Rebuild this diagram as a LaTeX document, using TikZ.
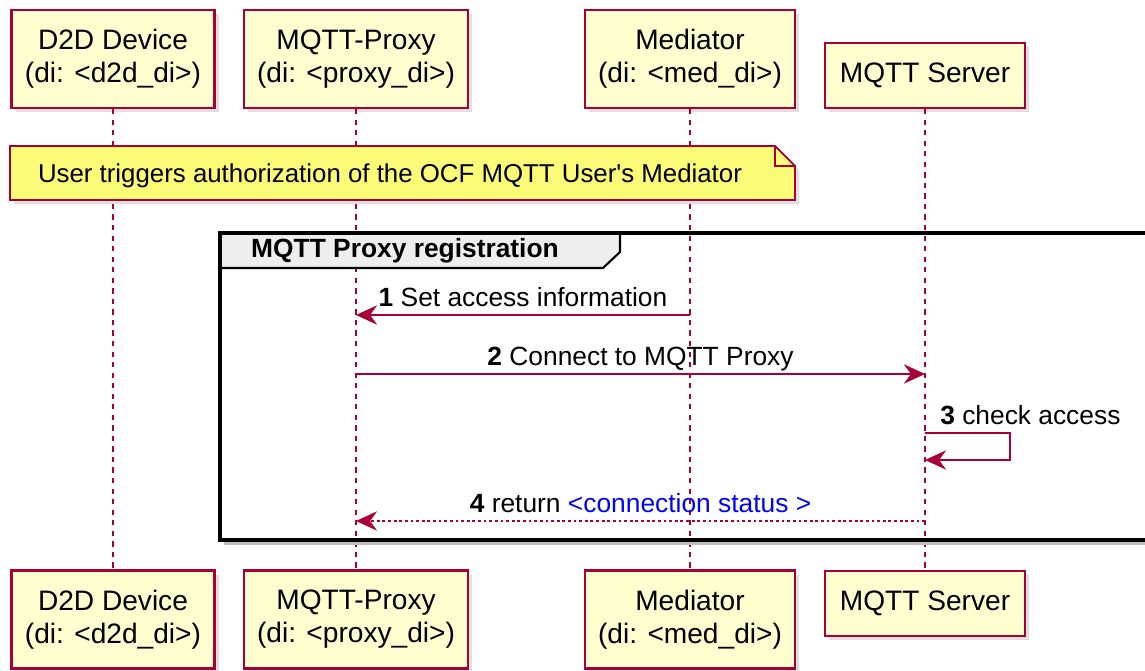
\documentclass[tikz,border=0pt]{standalone}
\usepackage{fontspec}
\setmainfont{Liberation Sans}
\usetikzlibrary{arrows.meta, positioning, calc, shadows}
\definecolor{umlred}{HTML}{A80036}
\definecolor{umlbox}{HTML}{FEFECE}
\definecolor{umlnote}{HTML}{FBFB77}
\definecolor{umlgroup}{HTML}{EEEEEE}
\tikzstyle{participant} = [rectangle, draw=umlred, fill=umlbox, line width=1.2pt, align=center, font=\fontsize{16}{18.7}\selectfont, minimum height=1.96cm, drop shadow={shadow xshift=2.5pt, shadow yshift=-2.5pt, opacity=0.25}]
\tikzstyle{lifeline} = [umlred, line width=0.7pt, dash pattern=on 3pt off 3pt]
\tikzstyle{msg} = [umlred, line width=0.9pt, -{Stealth[length=12pt, width=11pt, inset=4pt]}]
\tikzstyle{reply} = [msg, dash pattern=on 1.6pt off 1.6pt]
\tikzstyle{msglabel} = [font=\fontsize{15}{18}\selectfont, text=black, inner sep=0pt, anchor=base]

\begin{document}
\begin{tikzpicture}[x=0.02cm, y=-0.02cm]
    \useasboundingbox (0,0) rectangle (1145,671);

    % Participants - top
    \node[participant, minimum width=4.06cm] (d2dTop) at (113,59) {D2D Device\\(di: <d2d\_di>)};
    \node[participant, minimum width=4.48cm] (proxyTop) at (356,59) {MQTT-Proxy\\(di: <proxy\_di>)};
    \node[participant, minimum width=4.2cm] (medTop) at (690,59) {Mediator\\(di: <med\_di>)};
    \node[participant, minimum width=4cm, minimum height=1.3cm] (srvTop) at (925,75.5) {MQTT Server};

    % Participants - bottom
    \node[participant, minimum width=4.06cm] (d2dBot) at (113,619.5) {D2D Device\\(di: <d2d\_di>)};
    \node[participant, minimum width=4.48cm] (proxyBot) at (356,619.5) {MQTT-Proxy\\(di: <proxy\_di>)};
    \node[participant, minimum width=4.2cm] (medBot) at (690,619.5) {Mediator\\(di: <med\_di>)};
    \node[participant, minimum width=4cm, minimum height=1.3cm] (srvBot) at (925,603.5) {MQTT Server};

    % Lifelines
    \draw[lifeline] (d2dTop.south) -- (d2dBot.north);
    \draw[lifeline] (proxyTop.south) -- (proxyBot.north);
    \draw[lifeline] (medTop.south) -- (medBot.north);
    \draw[lifeline] (srvTop.south) -- (srvBot.north);

    % Note across the lifelines
    \path[fill=umlnote, draw=umlred, line width=1pt, drop shadow={shadow xshift=2.5pt, shadow yshift=-2.5pt, opacity=0.25}]
        (10,146) -- (775,146) -- (795,166) -- (795,200) -- (10,200) -- cycle;
    \draw[umlred, line width=1pt] (775,146) -- (775,166) -- (795,166);
    \node[font=\fontsize{14.7}{18}\selectfont] (userNote) at (390,176) {User triggers authorization of the OCF MQTT User\textquotesingle s Mediator};

    % Group frame
    \path[fill=umlgroup, draw=black, line width=1.2pt] (220,233) -- (620,233) -- (620,252) -- (603,268) -- (220,268);
    \node[font=\bfseries\fontsize{15}{18}\selectfont] (groupTitle) at (405,251) {MQTT Proxy registration};
    \draw[black!25, line width=2.5pt] (224,543) -- (1160,543);
    \draw[line width=2pt] (220,233) rectangle (1160,540);

    % Messages
    \coordinate (m1src) at (medTop.south |- 0,315);
    \coordinate (m1dst) at (proxyTop.south |- 0,315);
    \coordinate (m2src) at (proxyTop.south |- 0,374);
    \coordinate (m2dst) at (srvTop.south |- 0,374);
    \coordinate (m3src) at (srvTop.south |- 0,433);
    \coordinate (m3dst) at (srvTop.south |- 0,460);
    \coordinate (m4src) at (srvTop.south |- 0,521);
    \coordinate (m4dst) at (proxyTop.south |- 0,521);

    \draw[msg] (m1src) -- node[msglabel, yshift=5pt] (lbl1) {\textbf{1} Set access information} (m1dst);
    \draw[msg] (m2src) -- node[msglabel, yshift=5pt] (lbl2) {\textbf{2} Connect to MQTT Proxy} (m2dst);
    \draw[msg] (m3src) -- ++(85,0) |- (m3dst);
    \node[msglabel, anchor=base west] (lbl3) at ([xshift=8.5pt, yshift=5pt]m3src) {\textbf{3} check access};
    \draw[reply] (m4src) -- node[msglabel, yshift=5pt] (lbl4) {\textbf{4} return \textcolor{blue}{<connection status >}} (m4dst);
\end{tikzpicture}
\end{document}
